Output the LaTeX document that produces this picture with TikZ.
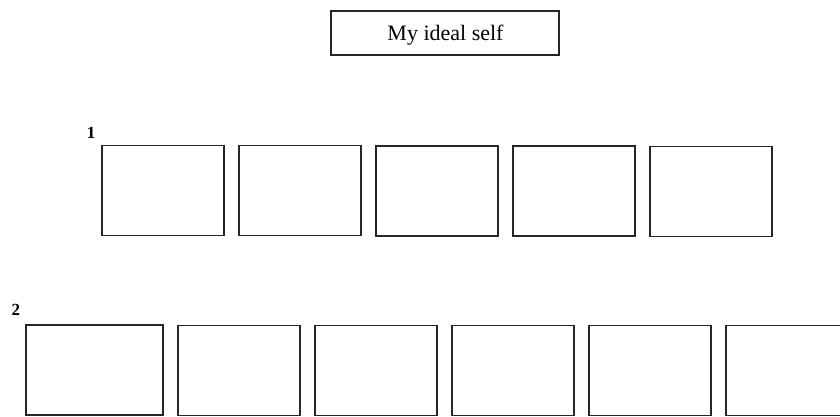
\documentclass[tikz,border=0pt]{standalone}
\usepackage{fontspec}
\setmainfont{Liberation Serif}
\begin{document}
\begin{tikzpicture}[x=1pt,y=-1pt,
  cell/.style={draw=black!85,line width=1.3pt,rectangle,inner sep=0pt,minimum height=90pt},
  titlebox/.style={draw=black!85,line width=1.3pt,rectangle,inner sep=0pt,minimum width=228pt,minimum height=44pt},
  rowlabel/.style={inner sep=0pt,font=\fontsize{17}{19}\selectfont\bfseries}]
\useasboundingbox (0,0) rectangle (840,416);
\clip (0,0) rectangle (840,416);
\node[titlebox] (title) at (445,33) {};
\node[inner sep=0pt,font=\fontsize{22}{24}\selectfont] (tt) at (445.5,35) {My ideal self};
\node[rowlabel] (l1) at (91,132.5) {1};
\node[rowlabel] (l2) at (16,310) {2};
% row 1
\node[cell,minimum width=122pt] (a1) at (163,190.5) {};
\node[cell,minimum width=122pt] (a2) at (300,190.5) {};
\node[cell,minimum width=122pt] (a3) at (437,191) {};
\node[cell,minimum width=122pt] (a4) at (574,191) {};
\node[cell,minimum width=122pt] (a5) at (711,191.5) {};
% row 2
\node[cell,minimum width=137pt] (b1) at (94.5,370) {};
\node[cell,minimum width=122pt] (b2) at (239,370.5) {};
\node[cell,minimum width=122pt] (b3) at (376,370.5) {};
\node[cell,minimum width=122pt] (b4) at (513,370.5) {};
\node[cell,minimum width=122pt] (b5) at (650,370.5) {};
\node[cell,minimum width=122pt] (b6) at (787,370.5) {};
\end{tikzpicture}
\end{document}
